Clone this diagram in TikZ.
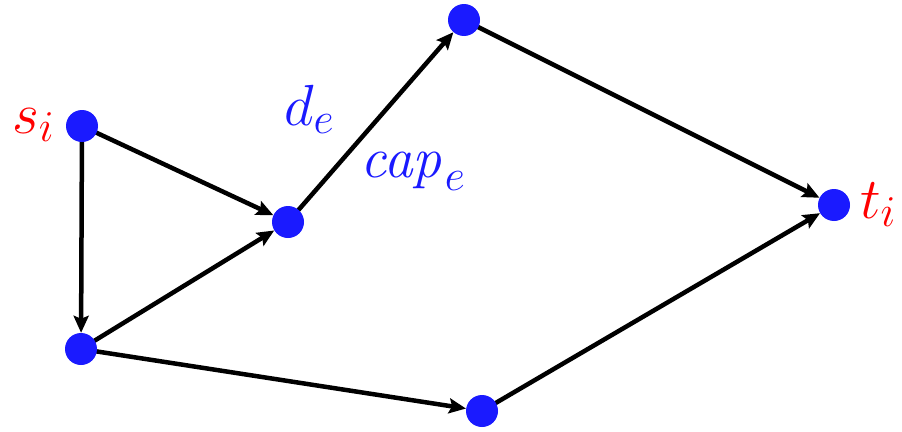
\RequirePackage{fix-cm}
\documentclass[tikz,border=0pt]{standalone}
\usetikzlibrary{arrows.meta,backgrounds}
\DeclareMathSizes{58}{58}{44}{34}
\definecolor{nodeblue}{RGB}{26,26,255}
\begin{document}
\begin{tikzpicture}[x=1pt,y=-1pt,
  vert/.style={circle,fill=nodeblue,minimum size=32pt,inner sep=0pt},
  edge/.style={line width=4.5pt,-{Stealth[length=17pt,width=15pt,inset=3pt]}},
  lbl/.style={inner sep=0pt,anchor=base west,font=\fontsize{58}{64}\selectfont}]
\useasboundingbox (0,0) rectangle (902,431);
\node[vert] (s) at (82,126) {};
\node[vert] (a) at (288,222) {};
\node[vert] (top) at (464,20) {};
\node[vert] (t) at (834,205) {};
\node[vert] (bl) at (81,349) {};
\node[vert] (b) at (482,411) {};
\begin{scope}[on background layer]
\draw[edge] (s.center) -- (a);
\draw[edge] (s.center) -- (bl);
\draw[edge] (bl.center) -- (a);
\draw[edge] (a.center) -- (top);
\draw[edge] (top.center) -- (t);
\draw[edge] (bl.center) -- (b);
\draw[edge] (b.center) -- (t);
\end{scope}
\node[lbl,text=red] (sl) at (12,133) {$s_i$};
\node[lbl,text=red] (tl) at (860,218) {$t_i$};
\node[lbl,text=nodeblue] (dl) at (284,125) {$d_e$};
\node[lbl,text=nodeblue] (cl) at (360,177) {$\mathit{cap}_e$};
\end{tikzpicture}
\end{document}
